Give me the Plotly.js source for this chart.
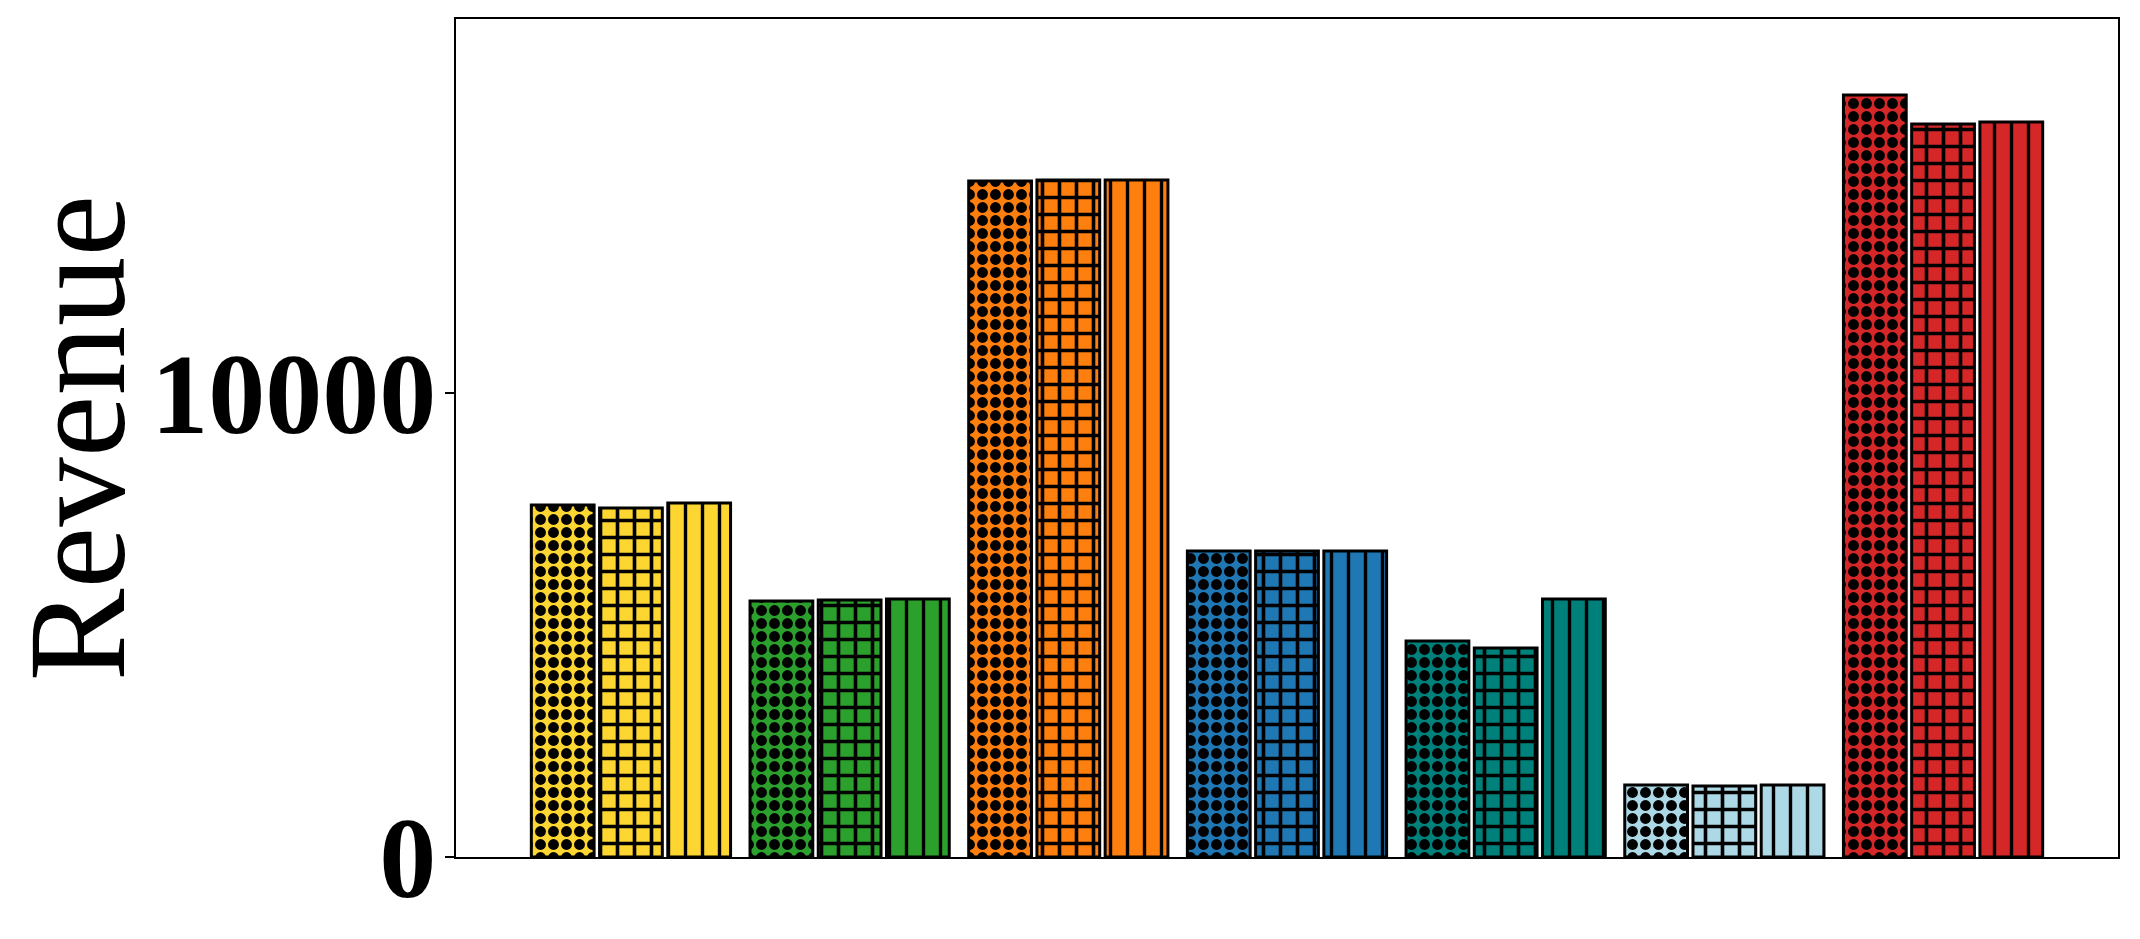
<!DOCTYPE html>
<html>
<head>
<meta charset="utf-8">
<script src="https://cdn.plot.ly/plotly-3.0.1.min.js"></script>
<style>html,body{margin:0;padding:0;background:#fff;}#chart{width:2140px;height:939px;}</style>
</head>
<body>
<div id="chart"></div>
<script>
const categories = ['A', 'B', 'C', 'D', 'E', 'F', 'G'];
const barColors = ['#FDD631', '#2CA02C', '#FF7F0E', '#1F77B4', '#00807A', '#ADD8E6', '#D62728'];
const seriesNames = ['Series 1', 'Series 2', 'Series 3'];
const series1 = [7586, 5517, 14569, 6595, 4655, 1552, 16422];
const series2 = [7522, 5539, 14591, 6595, 4504, 1530, 15797];
const series3 = [7629, 5560, 14591, 6595, 5560, 1552, 15841];
const yTickVals = [0, 10000];
const yTickText = ['0', '10000'];

const patterns = [
  {shape: '.', size: 13, solidity: 0.55},
  {shape: '+', size: 17, solidity: 0.38},
  {shape: '|', size: 17, solidity: 0.2}
];
const allSeries = [series1, series2, series3];

const traces = [];
allSeries.forEach((vals, i) => {
  categories.forEach((cat, j) => {
    traces.push({
      type: 'bar',
      name: seriesNames[i],
      x: [cat],
      y: [vals[j]],
      offsetgroup: String(i),
      marker: {
        color: barColors[j],
        line: {color: '#000', width: 3},
        pattern: {
          shape: patterns[i].shape,
          size: patterns[i].size,
          solidity: patterns[i].solidity,
          fgcolor: '#000',
          bgcolor: barColors[j],
          fgopacity: 1,
          fillmode: 'replace'
        }
      },
      showlegend: false
    });
  });
});

const layout = {
  width: 2140,
  height: 939,
  margin: {l: 456, r: 22, t: 19, b: 82},
  paper_bgcolor: '#fff',
  plot_bgcolor: '#fff',
  barmode: 'group',
  bargap: 0.064,
  bargroupgap: 0.08,
  xaxis: {
    type: 'category',
    categoryarray: categories,
    categoryorder: 'array',
    range: [-0.8, 6.8],
    showticklabels: false,
    ticks: '',
    showgrid: false,
    zeroline: false,
    showline: true,
    linecolor: '#000',
    linewidth: 2,
    mirror: true
  },
  yaxis: {
    range: [0, 18060],
    tickvals: yTickVals,
    ticktext: yTickText,
    ticks: 'outside',
    ticklen: 9,
    tickwidth: 2,
    tickcolor: '#000',
    showgrid: false,
    zeroline: false,
    showline: true,
    linecolor: '#000',
    linewidth: 2,
    mirror: true,
    ticklabelstandoff: -14,
    tickfont: {family: 'Liberation Serif, Times New Roman, serif', size: 114, color: '#000', weight: 'bold'},
    title: {
      text: 'Revenue',
      font: {family: 'Liberation Serif, Times New Roman, serif', size: 139, color: '#000'},
      standoff: 32
    },
    automargin: false
  }
};

Plotly.newPlot('chart', traces, layout, {displayModeBar: false, staticPlot: true});
</script>
</body>
</html>
